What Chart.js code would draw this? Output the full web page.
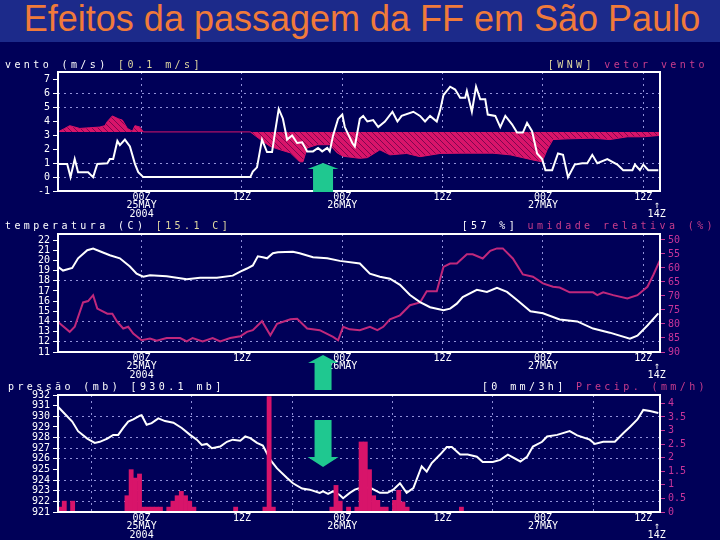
<!DOCTYPE html>
<html>
<head>
<meta charset="utf-8">
<script src="https://cdn.jsdelivr.net/npm/chart.js@4.4.1/dist/chart.umd.min.js"></script>
<style>
  body { margin: 0; background: #000058; }
  #pagina { position: relative; width: 720px; height: 540px; overflow: hidden; background: #000058; }
  #faixa { position: absolute; left: 0; top: 0; width: 720px; height: 42px; background: #1c2a8a; }
  #titulo { position: absolute; left: 0; top: 1px; width: 724px; text-align: center; line-height: 36px;
            font-family: 'Liberation Sans', Arial, sans-serif; font-size: 36px; color: #f07a3a; white-space: nowrap; }
  canvas { position: absolute; left: 0; }
  .cab { position: absolute; font-family: 'DejaVu Sans Mono', monospace; font-size: 10px; line-height: 10px;
         letter-spacing: 3.4px; white-space: nowrap; color: #fff; }
  .khaki { color: #e0d8a0; }
  .mag { color: #c83c8c; }
</style>
</head>
<body>
<div id="pagina">
  <div id="faixa"></div>
  <div id="titulo">Efeitos da passagem da FF em São Paulo</div>

  <canvas id="c1" width="720" height="180" style="top:42px"></canvas>
  <canvas id="c3" width="720" height="157" style="top:383px"></canvas>
  <canvas id="c2" width="720" height="173" style="top:222px"></canvas>

  <div class="cab" style="left:5px; top:60px">vento (m/s) <span class="khaki">[0.1 m/s]</span></div>
  <div class="cab" style="right:12px; top:60px"><span class="khaki">[WNW]</span> <span class="mag">vetor vento</span></div>
  <div class="cab" style="left:5px; top:221px">temperatura (C) <span class="khaki">[15.1 C]</span></div>
  <div class="cab" style="right:4px; top:221px">[57 %] <span class="mag">umidade relativa (%)</span></div>
  <div class="cab" style="left:8px; top:382px">pressão (mb) [930.1 mb]</div>
  <div class="cab" style="right:12px; top:382px">[0 mm/3h] <span class="mag">Precip. (mm/h)</span></div>
</div>

<script>
// tempo em horas desde 14Z de 24MAY2004
const horasTicks = [10, 22, 34, 46, 58, 70, 71.6];
const rotulosTempo = [['00Z', '25MAY', '2004'], '12Z', ['00Z', '26MAY'], '12Z', ['00Z', '27MAY'], '12Z', ['', '↑', '14Z']];
const horaFrente = 31.7; // setas verdes: passagem da frente fria

// vento (m/s)
const ventoHoras = [0, 1.1, 1.5, 2.0, 2.4, 3.6, 4.2, 4.7, 5.9, 6.2, 6.6, 7.1, 7.4, 8.0, 8.6, 9.2, 9.6, 10.2,
  23.0, 23.3, 23.8, 24.4, 25.0, 25.6, 26.0, 26.4, 26.9, 27.4, 28.0, 28.6, 29.2, 29.8, 30.5, 31.1, 31.6, 32.2,
  32.5, 32.9, 33.5, 34.0, 34.3, 35.2, 35.5, 36.1, 36.5, 37.0, 37.7, 38.3, 39.1, 40.0, 40.6, 41.1, 42.5, 43.3,
  43.9, 44.5, 45.3, 45.7, 46.1, 46.9, 47.5, 48.1, 48.7, 48.9, 49.5, 50.0, 50.5, 51.1, 51.4, 52.3, 52.9, 53.5,
  54.3, 54.9, 55.6, 56.1, 56.7, 57.3, 57.9, 58.3, 59.1, 59.8, 60.4, 61.0, 61.8, 62.7, 63.3, 63.9, 64.5, 65.7,
  66.9, 67.6, 68.7, 69.0, 69.6, 70.0, 70.6, 71.8];
const ventoVel = [0.95, 0.95, 0, 1.3, 0.35, 0.35, 0, 0.95, 1.0, 1.3, 1.3, 2.6, 2.3, 2.7, 2.2, 0.95, 0.35, 0,
  0, 0.4, 0.7, 2.7, 1.8, 1.8, 3.4, 4.9, 4.2, 2.7, 3.0, 2.45, 2.5, 1.85, 1.85, 2.1, 1.85, 2.1,
  1.85, 3.0, 4.2, 4.5, 3.6, 2.45, 2.2, 4.2, 4.4, 4.0, 4.1, 3.6, 4.0, 4.7, 4.0, 4.4, 4.7, 4.4,
  4.0, 4.4, 4.0, 4.8, 5.9, 6.5, 6.3, 5.7, 5.7, 6.2, 4.7, 6.5, 5.6, 5.6, 4.5, 4.4, 3.6, 4.4,
  3.8, 3.2, 3.2, 3.9, 3.3, 1.7, 1.3, 0.5, 0.5, 1.7, 1.6, 0, 0.9, 1.0, 1.0, 1.6, 1.0, 1.3,
  0.9, 0.5, 0.5, 0.9, 0.5, 0.9, 0.5, 0.5];

// extremo dos vetores de vento (envoltoria), em torno da linha base
const baseVetor = 3.25;
const vetorHoras = [0, 0.8, 1.4, 2.6, 3.8, 5.0, 5.6, 5.9, 6.5, 7.2, 7.7, 8.3, 8.9, 9.2, 9.8, 10.2,
  23.0, 24.2, 25.4, 26.6, 27.8, 28.9, 29.3, 29.8, 31.0, 32.5, 33.4, 34.1, 36.1, 37.0, 38.5, 39.7,
  41.7, 43.3, 45.7, 48.1, 52.0, 54.1, 56.8, 57.9, 58.5, 59.2, 60.9, 64.0, 66.0, 68.1, 70.0, 72.0];
const vetorExtremo = [3.25, 3.5, 3.7, 3.5, 3.55, 3.6, 3.7, 4.0, 4.4, 4.2, 4.1, 3.5, 3.3, 3.7, 3.6, 3.25,
  3.25, 2.7, 2.2, 1.96, 1.74, 1.1, 1.1, 2.1, 2.33, 2.33, 1.74, 1.5, 1.35, 1.4, 1.96, 1.6,
  1.7, 1.47, 1.7, 1.72, 1.72, 1.6, 1.23, 1.1, 1.96, 2.7, 2.75, 2.8, 2.7, 2.9, 2.9, 3.0];

// temperatura (C)
const tempHoras = [0, 0.6, 1.7, 2.4, 3.5, 4.2, 5.0, 6.2, 7.4, 8.6, 9.4, 10.2, 11.0, 13.0, 15.4, 17.0, 19.0,
  20.9, 21.8, 22.6, 23.3, 23.9, 24.5, 25.0, 25.7, 26.3, 28.1, 28.9, 30.5, 32.2, 33.7, 36.1, 37.3, 38.5,
  39.7, 40.9, 42.1, 43.3, 44.5, 46.1, 46.9, 47.7, 48.4, 50.1, 51.3, 52.5, 53.7, 54.9, 56.5, 58.0, 60.0,
  62.1, 64.0, 66.0, 68.4, 69.3, 70.5, 71.8];
const tempValores = [19.36, 19.0, 19.26, 20.2, 21.0, 21.16, 20.9, 20.5, 20.2, 19.4, 18.7, 18.4, 18.54, 18.44,
  18.15, 18.3, 18.3, 18.5, 18.9, 19.2, 19.5, 20.4, 20.3, 20.2, 20.7, 20.8, 20.85, 20.7, 20.3, 20.2, 19.95,
  19.7, 18.7, 18.4, 18.2, 17.6, 16.6, 15.9, 15.4, 15.1, 15.26, 15.75, 16.4, 17.1, 16.9, 17.3, 16.9, 16.1,
  15.0, 14.8, 14.2, 14.0, 13.3, 12.9, 12.3, 12.6, 13.6, 14.8];

// umidade relativa (%)
const umidHoras = [0, 1.4, 2.0, 3.0, 3.6, 4.2, 4.7, 5.9, 6.5, 7.1, 7.8, 8.4, 9.0, 10.0, 11.0, 11.8, 13.0,
  14.6, 15.4, 16.1, 17.3, 18.5, 19.4, 20.6, 21.8, 22.6, 23.3, 24.4, 25.4, 26.2, 27.8, 28.6, 29.8, 31.3,
  32.9, 33.5, 34.1, 34.9, 36.1, 37.3, 38.2, 38.9, 39.7, 40.9, 42.1, 43.3, 44.1, 45.3, 46.1, 46.9, 47.7,
  48.9, 49.6, 50.8, 51.7, 52.5, 53.2, 54.4, 55.6, 56.8, 58.0, 59.2, 60.0, 61.2, 64.0, 64.5, 65.2, 66.4,
  68.1, 69.3, 70.5, 71.2, 72.0];
const umidValores = [79.3, 82.8, 81.0, 72.3, 71.8, 69.7, 74.5, 76.3, 76.3, 79.3, 81.6, 81.0, 83.4, 85.8,
  85.2, 86.0, 85.0, 85.0, 86.2, 85.0, 86.2, 85.0, 86.2, 85.0, 84.4, 82.8, 82.2, 79.0, 84.0, 79.9, 78.3,
  78.1, 81.6, 82.2, 84.6, 85.8, 81.0, 81.9, 82.2, 81.0, 82.2, 81.0, 78.3, 76.9, 73.3, 72.3, 68.3, 68.3,
  59.6, 58.4, 58.4, 55.1, 55.1, 56.6, 53.9, 53.0, 53.0, 56.6, 62.3, 63.1, 65.5, 66.7, 67.0, 68.7, 68.7,
  69.7, 68.7, 69.7, 70.9, 69.7, 66.7, 62.5, 57.2];

// pressao (mb)
const pressHoras = [0, 0.6, 1.7, 2.4, 3.5, 4.4, 5.0, 5.9, 6.6, 7.2, 7.8, 8.4, 9.0, 9.8, 10.0, 10.6, 11.2,
  12.0, 12.8, 13.8, 14.8, 15.8, 16.6, 17.2, 17.8, 18.4, 19.4, 20.2, 20.9, 21.8, 22.4, 23.0, 23.8, 24.5,
  25.4, 26.2, 27.4, 28.1, 29.2, 30.1, 31.3, 31.7, 32.3, 32.9, 33.7, 34.1, 34.9, 35.5, 36.1, 37.3, 38.5,
  39.4, 40.1, 40.9, 41.7, 42.5, 43.5, 44.1, 44.7, 45.7, 46.5, 47.1, 48.1, 49.0, 50.1, 50.8, 52.0, 52.9,
  53.8, 55.3, 56.1, 56.8, 57.9, 58.5, 59.7, 61.2, 62.1, 63.6, 64.2, 65.2, 66.6, 67.6, 68.4, 69.3, 70.0,
  70.8, 71.8];
const pressValores = [930.9, 930.4, 929.5, 928.6, 927.9, 927.5, 927.6, 927.9, 928.25, 928.25, 928.9, 929.5,
  929.7, 930.05, 930.1, 929.2, 929.35, 929.8, 929.55, 929.4, 928.9, 928.25, 927.8, 927.3, 927.4, 927.0,
  927.15, 927.6, 927.8, 927.7, 928.1, 927.95, 927.5, 927.25, 925.9, 925.1, 924.2, 923.7, 923.2, 923.1,
  922.8, 922.95, 922.7, 922.95, 922.6, 922.3, 922.8, 923.1, 923.25, 923.3, 922.8, 922.8, 923.1, 923.7,
  922.8, 923.25, 925.3, 924.8, 925.6, 926.4, 927.1, 927.1, 926.4, 926.4, 926.2, 925.7, 925.7, 925.9,
  926.4, 925.75, 926.2, 927.15, 927.6, 928.1, 928.25, 928.6, 928.2, 927.8, 927.4, 927.6, 927.6, 928.4,
  929.0, 929.7, 930.6, 930.5, 930.3];

// precipitacao (mm/h), intervalos de meia hora (so os nao nulos)
const precHoras = [0.25, 0.75, 1.75, 8.25, 8.75, 9.25, 9.75, 10.25, 10.75, 11.25, 11.75, 12.25, 13.25, 13.75,
  14.25, 14.75, 15.25, 15.75, 16.25, 21.25, 24.75, 25.25, 25.75, 32.75, 33.25, 33.75, 34.75, 35.75, 36.25,
  36.75, 37.25, 37.75, 38.25, 38.75, 39.25, 40.25, 40.75, 41.25, 41.75, 48.25];
const precValores = [0.18, 0.4, 0.4, 0.6, 1.56, 1.25, 1.4, 0.18, 0.18, 0.18, 0.18, 0.18, 0.18, 0.4,
  0.6, 0.76, 0.6, 0.4, 0.18, 0.18, 0.18, 4.25, 0.18, 0.18, 0.98, 0.4, 0.18, 0.18, 2.58,
  2.58, 1.56, 0.6, 0.43, 0.18, 0.18, 0.43, 0.8, 0.37, 0.18, 0.18];

// ticks dos eixos y
const ticksVento = [-1, 0, 1, 2, 3, 4, 5, 6, 7];
const gradeVento = [0, 1, 5, 6];
const ticksTemp = [11, 12, 13, 14, 15, 16, 17, 18, 19, 20, 21, 22];
const gradeTemp = [12, 14, 18];
const ticksUmid = [50, 55, 60, 65, 70, 75, 80, 85, 90];
const ticksPress = [921, 922, 923, 924, 925, 926, 927, 928, 929, 930, 931, 932];
const gradePress = [922, 923, 924, 926, 927, 928, 930];
const ticksPrec = [0, 0.5, 1, 1.5, 2, 2.5, 3, 3.5, 4];

const BRANCO = '#ffffff';
const MAGENTA = '#d8146a';
const ROXO = '#c0287c';
const ROTULO_MAG = '#c8349a';
const GRADE = 'rgba(170,170,240,0.85)';
const VERDE = '#1fc890';
const fonteEixo = { family: "'DejaVu Sans Mono', monospace", size: 10, lineHeight: 0.85 };

const pontos = (xs, ys) => xs.map((x, i) => ({ x: x, y: ys[i] }));

function eixoTempo(altura) {
  return {
    type: 'linear', min: 0, max: 72, offset: false,
    afterBuildTicks: s => { s.ticks = horasTicks.map(v => ({ value: v })); },
    afterFit: s => { s.height = altura; },
    ticks: { color: BRANCO, font: fonteEixo, padding: 2, maxRotation: 0, autoSkip: false,
      callback: v => rotulosTempo[horasTicks.indexOf(v)] },
    grid: { color: c => (c.tick && c.tick.value > 71) ? 'transparent' : GRADE, lineWidth: 1, drawTicks: false },
    border: { display: false, dash: [2, 4] }
  };
}

function eixoY(cfg) {
  return {
    position: cfg.lado || 'left', min: cfg.min, max: cfg.max, reverse: !!cfg.reverso,
    afterBuildTicks: s => { s.ticks = cfg.ticks.map(v => ({ value: v })); },
    afterFit: s => { s.width = cfg.largura; },
    ticks: { color: cfg.cor || BRANCO, font: fonteEixo, padding: 3, autoSkip: false, callback: v => String(v) },
    grid: {
      drawOnChartArea: !!cfg.grade,
      color: c => (cfg.grade && c.tick && cfg.grade.includes(c.tick.value)) ? GRADE : 'transparent',
      tickColor: cfg.cor || BRANCO, tickLength: 5, tickWidth: 1, drawTicks: true
    },
    border: { display: false, dash: [2, 4] }
  };
}

const moldura = {
  id: 'moldura',
  afterDatasetsDraw(chart) {
    const { ctx, chartArea: a } = chart;
    ctx.save();
    ctx.strokeStyle = BRANCO;
    ctx.lineWidth = 2;
    ctx.strokeRect(a.left, a.top, a.right - a.left, a.bottom - a.top);
    ctx.restore();
  }
};

// seta verde: ponta / cauda medidas a partir da borda de referencia da area do grafico
function pluginSeta(cfg) {
  return {
    id: 'seta',
    afterDraw(chart) {
      const { ctx, chartArea: a, scales } = chart;
      const cx = scales.x.getPixelForValue(horaFrente);
      const ref = cfg.ref === 'top' ? a.top : a.bottom;
      const yP = ref + cfg.ponta, yC = ref + cfg.cauda;
      const dir = yC > yP ? 1 : -1;
      const yB = yP + dir * cfg.cabecaA;
      ctx.save();
      ctx.fillStyle = VERDE;
      ctx.beginPath();
      ctx.moveTo(cx, yP);
      ctx.lineTo(cx + cfg.cabecaL / 2, yB);
      ctx.lineTo(cx + cfg.hasteL / 2, yB);
      ctx.lineTo(cx + cfg.hasteL / 2, yC);
      ctx.lineTo(cx - cfg.hasteL / 2, yC);
      ctx.lineTo(cx - cfg.hasteL / 2, yB);
      ctx.lineTo(cx - cfg.cabecaL / 2, yB);
      ctx.closePath();
      ctx.fill();
      ctx.restore();
    }
  };
}

function hachura() {
  const p = document.createElement('canvas');
  p.width = 6; p.height = 6;
  const g = p.getContext('2d');
  g.fillStyle = MAGENTA;
  g.fillRect(0, 0, 6, 6);
  g.strokeStyle = 'rgba(90,0,70,0.7)';
  g.lineWidth = 1;
  g.beginPath(); g.moveTo(0, 0); g.lineTo(6, 6); g.stroke();
  return g.createPattern(p, 'repeat');
}

const base = {
  type: 'line',
  options: {
    responsive: false, animation: false, events: [], devicePixelRatio: 1,
    plugins: { legend: { display: false }, tooltip: { enabled: false } },
    elements: { point: { radius: 0 }, line: { tension: 0 } }
  }
};

// painel 1: vento
new Chart(document.getElementById('c1'), {
  ...base,
  data: {
    datasets: [
      { data: pontos(ventoHoras, ventoVel), borderColor: BRANCO, borderWidth: 2, yAxisID: 'y' },
      { data: pontos(vetorHoras, vetorExtremo), borderColor: MAGENTA, borderWidth: 1,
        backgroundColor: hachura(), fill: { value: baseVetor }, yAxisID: 'y' }
    ]
  },
  options: {
    ...base.options,
    layout: { padding: { top: 30, right: 60, left: 0, bottom: 0 } },
    scales: {
      x: eixoTempo(31),
      y: eixoY({ min: -1, max: 7.56, ticks: ticksVento, grade: gradeVento, largura: 58 })
    }
  },
  plugins: [moldura, pluginSeta({ ref: 'bottom', ponta: -28, cauda: 1, cabecaA: 6, cabecaL: 31, hasteL: 20 })]
});

// painel 2: temperatura e umidade
new Chart(document.getElementById('c2'), {
  ...base,
  data: {
    datasets: [
      { data: pontos(tempHoras, tempValores), borderColor: BRANCO, borderWidth: 2, yAxisID: 'y' },
      { data: pontos(umidHoras, umidValores), borderColor: ROXO, borderWidth: 2, yAxisID: 'y2' }
    ]
  },
  options: {
    ...base.options,
    layout: { padding: { top: 12, right: 0, left: 0, bottom: 0 } },
    scales: {
      x: eixoTempo(43),
      y: eixoY({ min: 11, max: 22.59, ticks: ticksTemp, grade: gradeTemp, largura: 58 }),
      y2: eixoY({ lado: 'right', min: 47.86, max: 90, reverso: true, ticks: ticksUmid, largura: 60, cor: ROTULO_MAG })
    }
  },
  plugins: [moldura, pluginSeta({ ref: 'bottom', ponta: 3, cauda: 38, cabecaA: 8, cabecaL: 30, hasteL: 17 })]
});

// painel 3: pressao e precipitacao
new Chart(document.getElementById('c3'), {
  ...base,
  data: {
    datasets: [
      { type: 'bar', data: pontos(precHoras, precValores), backgroundColor: MAGENTA, borderWidth: 0,
        barPercentage: 1, categoryPercentage: 1, yAxisID: 'y2' },
      { data: pontos(pressHoras, pressValores), borderColor: BRANCO, borderWidth: 2, yAxisID: 'y' }
    ]
  },
  options: {
    ...base.options,
    layout: { padding: { top: 12, right: 0, left: 0, bottom: 0 } },
    scales: {
      x: eixoTempo(28),
      y: eixoY({ min: 921, max: 932, ticks: ticksPress, grade: gradePress, largura: 58 }),
      y2: eixoY({ lado: 'right', min: 0, max: 4.31, ticks: ticksPrec, largura: 60, cor: ROTULO_MAG })
    }
  },
  plugins: [moldura, pluginSeta({ ref: 'top', ponta: 72, cauda: 25, cabecaA: 10, cabecaL: 31, hasteL: 17 })]
});
</script>
</body>
</html>
